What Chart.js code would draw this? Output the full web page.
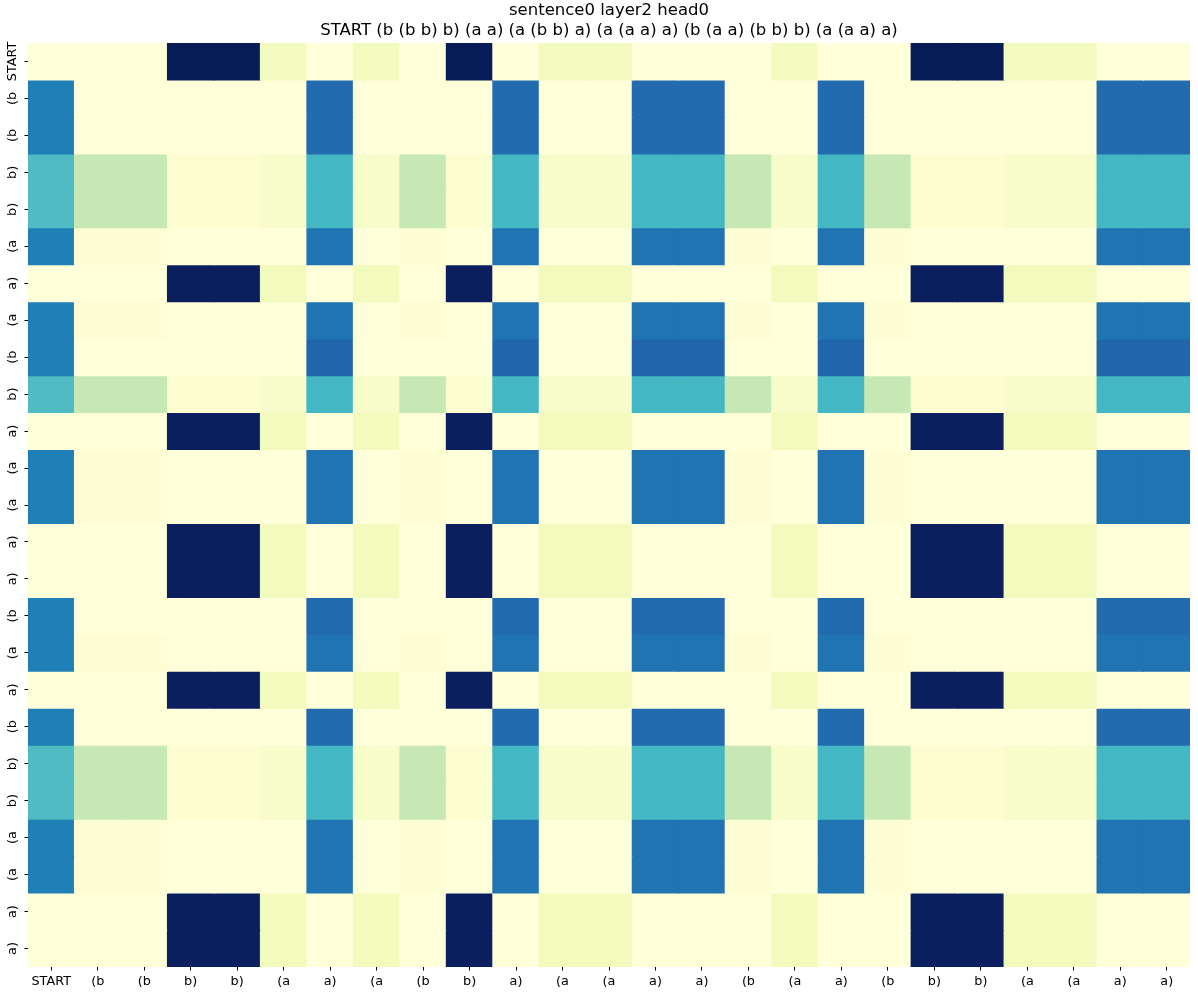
<!DOCTYPE html>
<html>
<head>
<meta charset="utf-8">
<script src="https://cdn.jsdelivr.net/npm/chart.js@4.4.1/dist/chart.umd.min.js"></script>
<style>
html, body { margin: 0; padding: 0; background: #ffffff; }
#wrap { width: 1198px; height: 999px; }
</style>
</head>
<body>
<div id="wrap"><canvas id="c" width="1198" height="999"></canvas></div>
<script>
// ---- data ----
const titleLines = [
  "sentence0 layer2 head0",
  "START (b (b b) b) (a a) (a (b b) a) (a (a a) a) (b (a a) (b b) b) (a (a a) a)"
];
const tokens = ["START","(b","(b","b)","b)","(a","a)","(a","(b","b)","a)","(a","(a","a)","a)","(b","(a","a)","(b","b)","b)","(a","(a","a)","a)"];

// attention weights, one row per query token (same order as tokens)
const weights = [
  [0.001,0.001,0.001,0.175,0.175,0.015,0.001,0.015,0.001,0.175,0.001,0.015,0.015,0.001,0.001,0.001,0.015,0.001,0.001,0.175,0.175,0.015,0.015,0.001,0.001], // START
  [0.117,0.001,0.001,0.001,0.001,0.001,0.126,0.001,0.001,0.001,0.126,0.001,0.001,0.126,0.126,0.001,0.001,0.126,0.001,0.001,0.001,0.001,0.001,0.126,0.126], // (b
  [0.117,0.001,0.001,0.001,0.001,0.001,0.126,0.001,0.001,0.001,0.126,0.001,0.001,0.126,0.126,0.001,0.001,0.126,0.001,0.001,0.001,0.001,0.001,0.126,0.126], // (b
  [0.083,0.045,0.045,0.005,0.005,0.009,0.087,0.009,0.045,0.005,0.087,0.009,0.009,0.087,0.087,0.045,0.009,0.087,0.045,0.005,0.005,0.009,0.009,0.087,0.087], // b)
  [0.083,0.045,0.045,0.005,0.005,0.009,0.087,0.009,0.045,0.005,0.087,0.009,0.009,0.087,0.087,0.045,0.009,0.087,0.045,0.005,0.005,0.009,0.009,0.087,0.087], // b)
  [0.117,0.004,0.004,0.001,0.001,0.001,0.122,0.001,0.004,0.001,0.122,0.001,0.001,0.122,0.122,0.004,0.001,0.122,0.004,0.001,0.001,0.001,0.001,0.122,0.122], // (a
  [0.001,0.001,0.001,0.173,0.173,0.016,0.001,0.016,0.001,0.173,0.001,0.016,0.016,0.001,0.001,0.001,0.016,0.001,0.001,0.173,0.173,0.016,0.016,0.001,0.001], // a)
  [0.117,0.004,0.004,0.001,0.001,0.001,0.122,0.001,0.004,0.001,0.122,0.001,0.001,0.122,0.122,0.004,0.001,0.122,0.004,0.001,0.001,0.001,0.001,0.122,0.122], // (a
  [0.117,0.001,0.001,0.001,0.001,0.001,0.128,0.001,0.001,0.001,0.128,0.001,0.001,0.128,0.128,0.001,0.001,0.128,0.001,0.001,0.001,0.001,0.001,0.128,0.128], // (b
  [0.083,0.045,0.045,0.005,0.005,0.009,0.087,0.009,0.045,0.005,0.087,0.009,0.009,0.087,0.087,0.045,0.009,0.087,0.045,0.005,0.005,0.009,0.009,0.087,0.087], // b)
  [0.001,0.001,0.001,0.173,0.173,0.016,0.001,0.016,0.001,0.173,0.001,0.016,0.016,0.001,0.001,0.001,0.016,0.001,0.001,0.173,0.173,0.016,0.016,0.001,0.001], // a)
  [0.117,0.004,0.004,0.001,0.001,0.001,0.122,0.001,0.004,0.001,0.122,0.001,0.001,0.122,0.122,0.004,0.001,0.122,0.004,0.001,0.001,0.001,0.001,0.122,0.122], // (a
  [0.117,0.004,0.004,0.001,0.001,0.001,0.122,0.001,0.004,0.001,0.122,0.001,0.001,0.122,0.122,0.004,0.001,0.122,0.004,0.001,0.001,0.001,0.001,0.122,0.122], // (a
  [0.001,0.001,0.001,0.173,0.173,0.016,0.001,0.016,0.001,0.173,0.001,0.016,0.016,0.001,0.001,0.001,0.016,0.001,0.001,0.173,0.173,0.016,0.016,0.001,0.001], // a)
  [0.001,0.001,0.001,0.173,0.173,0.016,0.001,0.016,0.001,0.173,0.001,0.016,0.016,0.001,0.001,0.001,0.016,0.001,0.001,0.173,0.173,0.016,0.016,0.001,0.001], // a)
  [0.117,0.001,0.001,0.001,0.001,0.001,0.126,0.001,0.001,0.001,0.126,0.001,0.001,0.126,0.126,0.001,0.001,0.126,0.001,0.001,0.001,0.001,0.001,0.126,0.126], // (b
  [0.117,0.004,0.004,0.001,0.001,0.001,0.122,0.001,0.004,0.001,0.122,0.001,0.001,0.122,0.122,0.004,0.001,0.122,0.004,0.001,0.001,0.001,0.001,0.122,0.122], // (a
  [0.001,0.001,0.001,0.173,0.173,0.016,0.001,0.016,0.001,0.173,0.001,0.016,0.016,0.001,0.001,0.001,0.016,0.001,0.001,0.173,0.173,0.016,0.016,0.001,0.001], // a)
  [0.117,0.001,0.001,0.001,0.001,0.001,0.126,0.001,0.001,0.001,0.126,0.001,0.001,0.126,0.126,0.001,0.001,0.126,0.001,0.001,0.001,0.001,0.001,0.126,0.126], // (b
  [0.083,0.045,0.045,0.005,0.005,0.009,0.087,0.009,0.045,0.005,0.087,0.009,0.009,0.087,0.087,0.045,0.009,0.087,0.045,0.005,0.005,0.009,0.009,0.087,0.087], // b)
  [0.083,0.045,0.045,0.005,0.005,0.009,0.087,0.009,0.045,0.005,0.087,0.009,0.009,0.087,0.087,0.045,0.009,0.087,0.045,0.005,0.005,0.009,0.009,0.087,0.087], // b)
  [0.117,0.004,0.004,0.001,0.001,0.001,0.122,0.001,0.004,0.001,0.122,0.001,0.001,0.122,0.122,0.004,0.001,0.122,0.004,0.001,0.001,0.001,0.001,0.122,0.122], // (a
  [0.117,0.004,0.004,0.001,0.001,0.001,0.122,0.001,0.004,0.001,0.122,0.001,0.001,0.122,0.122,0.004,0.001,0.122,0.004,0.001,0.001,0.001,0.001,0.122,0.122], // (a
  [0.001,0.001,0.001,0.173,0.173,0.016,0.001,0.016,0.001,0.173,0.001,0.016,0.016,0.001,0.001,0.001,0.016,0.001,0.001,0.173,0.173,0.016,0.016,0.001,0.001], // a)
  [0.001,0.001,0.001,0.173,0.173,0.016,0.001,0.016,0.001,0.173,0.001,0.016,0.016,0.001,0.001,0.001,0.016,0.001,0.001,0.173,0.173,0.016,0.016,0.001,0.001]  // a)
];

// ---- YlGnBu colour map (matplotlib stops) ----
const ylGnBu = ["#ffffd9","#edf8b1","#c7e9b4","#7fcdbb","#41b6c4","#1d91c0","#225ea8","#253494","#081d58"];
const allVals = weights.flat();
const vmin = Math.min(...allVals);
const vmax = Math.max(...allVals);
function hexToRgb(h) { return [parseInt(h.slice(1,3),16), parseInt(h.slice(3,5),16), parseInt(h.slice(5,7),16)]; }
const stopRgb = ylGnBu.map(hexToRgb);
function cmap(v) {
  let t = (v - vmin) / (vmax - vmin);
  t = Math.max(0, Math.min(1, t));
  const s = t * (stopRgb.length - 1);
  const i = Math.min(stopRgb.length - 2, Math.floor(s));
  const f = s - i;
  const a = stopRgb[i], b = stopRgb[i + 1];
  const c = a.map((x, k) => Math.round(x + (b[k] - x) * f));
  return `rgb(${c[0]},${c[1]},${c[2]})`;
}

Chart.defaults.font.family = "'DejaVu Sans', sans-serif";
Chart.defaults.color = "#000";

const datasets = weights.map((row, r) => ({
  label: tokens[r],
  data: row.map(() => [r, r + 1]),
  backgroundColor: row.map(cmap),
  borderWidth: 0,
  borderSkipped: false,
  inflateAmount: 0.5,
  barPercentage: 1,
  categoryPercentage: 1,
  grouped: false
}));

const LABEL_FONT = 12.8;

const yLabelPlugin = {
  id: "yTokenLabels",
  afterDraw(chart) {
    const { ctx, chartArea, scales } = chart;
    const y = scales.y;
    ctx.save();
    ctx.font = LABEL_FONT + "px 'DejaVu Sans'";
    ctx.fillStyle = "#000";
    ctx.textAlign = "center";
    ctx.textBaseline = "alphabetic";
    tokens.forEach((t, i) => {
      const py = y.getPixelForValue(i + 0.5);
      ctx.save();
      ctx.translate(chartArea.left - 12, py);
      ctx.rotate(-Math.PI / 2);
      ctx.fillText(t, 0, 0);
      ctx.restore();
    });
    ctx.restore();
  }
};

new Chart(document.getElementById("c"), {
  type: "bar",
  data: { labels: tokens, datasets },
  plugins: [yLabelPlugin],
  options: {
    responsive: false,
    animation: false,
    layout: { padding: { left: 0, right: 8, top: 0, bottom: 0 } },
    plugins: {
      legend: { display: false },
      tooltip: { enabled: false },
      title: {
        display: true,
        text: titleLines,
        fullSize: false,
        color: "#000",
        font: { family: "'DejaVu Sans'", size: 16.5, weight: "normal", lineHeight: 1.2 },
        padding: { top: 0.6, bottom: 2.8 }
      }
    },
    scales: {
      x: {
        type: "category",
        offset: true,
        grid: { offset: false, drawOnChartArea: false, drawTicks: true, tickLength: 3.5, tickColor: "#000", tickWidth: 1 },
        border: { display: false },
        ticks: { autoSkip: false, maxRotation: 0, minRotation: 0, color: "#000", padding: 3.5, font: { size: LABEL_FONT } },
        afterFit: (s) => { s.height = 32; }
      },
      y: {
        type: "linear",
        min: 0,
        max: 25,
        reverse: true,
        grid: { drawOnChartArea: false, drawTicks: true, tickLength: 3.5, tickColor: "#000", tickWidth: 1 },
        border: { display: false },
        ticks: { display: false },
        afterBuildTicks: (s) => { s.ticks = tokens.map((t, i) => ({ value: i + 0.5 })); },
        afterFit: (s) => { s.width = 28; }
      }
    }
  }
});
</script>
</body>
</html>
